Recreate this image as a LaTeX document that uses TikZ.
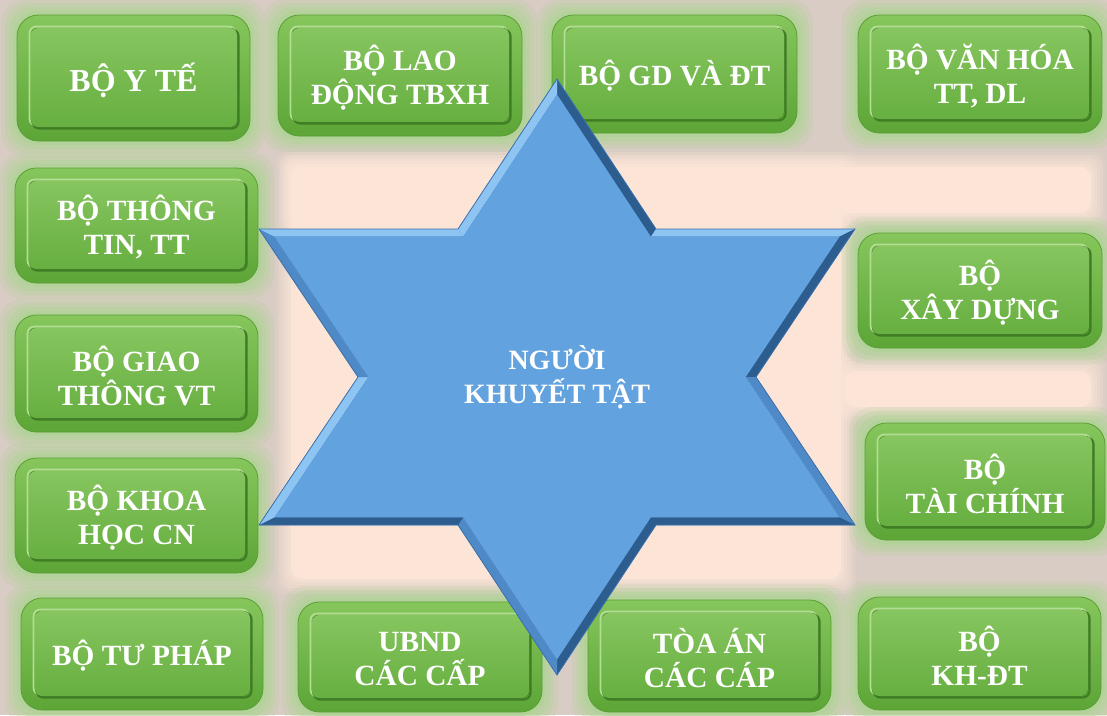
\documentclass[tikz,border=0pt]{standalone}
\usepackage{fontspec}
\setmainfont{Liberation Serif}
\usetikzlibrary{calc}
\definecolor{bggray}{HTML}{D8CCC4}
\definecolor{peach}{HTML}{FCE5D7}
\definecolor{glowgreen}{HTML}{AED493}
\definecolor{outtop}{HTML}{86C65C}
\definecolor{outbot}{HTML}{5CA536}
\definecolor{intop}{HTML}{86C55F}
\definecolor{inbot}{HTML}{67AF40}
\definecolor{edgelight}{HTML}{B2DE94}
\definecolor{edgedark}{HTML}{3F7D24}
\definecolor{outline}{HTML}{5A9E35}
\definecolor{starfill}{HTML}{62A3DF}
\definecolor{bevlight}{HTML}{8DC4F2}
\definecolor{bevmid}{HTML}{4F8AC6}
\definecolor{bevdark}{HTML}{2D5C8E}
\definecolor{staredge}{HTML}{3A72AE}
\tikzset{
  boxtext/.style={text=white, align=center, font=\bfseries\fontsize{22}{25.5}\selectfont},
  bigtext/.style={text=white, align=center, font=\bfseries\fontsize{24}{28}\selectfont},
  startext/.style={text=white, align=center, font=\bfseries\fontsize{21}{25.5}\selectfont},
}
\newcommand{\softpeach}[4]{%
  \foreach \g/\o in {0/0.15,3/0.2,6/0.25,9/0.3,12/0.4,15/1} {%
    \fill[peach,opacity=\o,rounded corners=8pt] ({#1+\g},{#2+\g}) rectangle ({#3-\g},{#4-\g});}}
\newcommand{\gbox}[7][boxtext]{%
  \foreach \g/\o in {16/0.2,12/0.3,8/0.4,4/0.55} {%
    \fill[glowgreen,opacity=\o,rounded corners=18pt] ({#3-\g},{#4-\g}) rectangle ({#5+\g},{#6+\g});}
  \draw[outline, line width=0.6pt, top color=outtop, bottom color=outbot, rounded corners=16pt] (#3,#4) rectangle (#5,#6);
  \draw[edgedark, line width=1.6pt, rounded corners=5pt] ({#3+15.5},{#4+14.5}) rectangle ({#5-11.5},{#6-12.5});
  \draw[edgelight, line width=1.3pt, rounded corners=5pt] ({#3+12.5},{#4+11.5}) rectangle ({#5-14.5},{#6-15.5});
  \fill[top color=intop, bottom color=inbot, rounded corners=5pt] ({#3+14},{#4+13}) rectangle ({#5-13},{#6-14});
  \node[#1] (#2) at ({(#3+#5)/2},{(#4+#6)/2+2}) {#7};
}
\begin{document}
\begin{tikzpicture}[x=0.75pt,y=-0.75pt]
\useasboundingbox (0,0) rectangle (1107,715);
\fill[bggray] (0,0) rectangle (1107,715);
% soft light areas of the background
\softpeach{280}{152}{1106}{228}
\softpeach{276}{152}{856}{594}
\softpeach{830}{356}{1106}{422}

% green boxes
\gbox[bigtext]{yte}{17}{15}{250}{141}{BỘ Y TẾ}
\gbox{laodong}{278}{15}{522}{136}{BỘ LAO\\ĐỘNG TBXH}
\gbox{gddt}{552}{15}{797}{133}{BỘ GD VÀ ĐT}
\gbox{vanhoa}{858}{15}{1102}{133}{BỘ VĂN HÓA\\TT, DL}
\gbox{thongtin}{15}{168}{258}{283}{BỘ THÔNG\\TIN, TT}
\gbox{giaothong}{15}{315}{258}{432}{BỘ GIAO\\THÔNG VT}
\gbox{khoahoc}{15}{458}{258}{573}{BỘ KHOA\\HỌC CN}
\gbox{tuphap}{21}{598}{263}{710}{BỘ TƯ PHÁP}
\gbox{ubnd}{298}{602}{542}{712}{UBND\\CÁC CẤP}
\gbox{toaan}{588}{600}{831}{712}{TÒA ÁN\\CÁC CÁP}
\gbox{khdt}{858}{597}{1101}{710}{BỘ\\KH-ĐT}
\gbox{xaydung}{858}{233}{1102}{348}{BỘ\\XÂY DỰNG}
\gbox{taichinh}{865}{423}{1105}{540}{BỘ\\TÀI CHÍNH}

% star
\coordinate (C) at (557,377);
\coordinate (P0) at (557,79);
\coordinate (I1) at (656,229);
\coordinate (P1) at (855,229);
\coordinate (I2) at (756,377);
\coordinate (P2) at (855,525);
\coordinate (I3) at (656,525);
\coordinate (P3) at (557,675);
\coordinate (I4) at (458,525);
\coordinate (P4) at (259,525);
\coordinate (I5) at (358,377);
\coordinate (P5) at (259,229);
\coordinate (I0) at (458,229);
\foreach \v in {P0,P1,P2,P3,P4,P5,I0,I1,I2,I3,I4,I5} {\coordinate (\v') at ($(C)!0.948!(\v)$);}
\fill[staredge] (P0)--(I1)--(P1)--(I2)--(P2)--(I3)--(P3)--(I4)--(P4)--(I5)--(P5)--(I0)--cycle;
\fill[bevdark]  (P0)--(I1)--(I1')--(P0')--cycle;
\fill[bevlight] (I1)--(P1)--(P1')--(I1')--cycle;
\fill[bevdark]  (P1)--(I2)--(I2')--(P1')--cycle;
\fill[bevmid]   (I2)--(P2)--(P2')--(I2')--cycle;
\fill[bevdark]  (P2)--(I3)--(I3')--(P2')--cycle;
\fill[bevdark]  (I3)--(P3)--(P3')--(I3')--cycle;
\fill[bevmid]   (P3)--(I4)--(I4')--(P3')--cycle;
\fill[bevdark]  (I4)--(P4)--(P4')--(I4')--cycle;
\fill[bevlight] (P4)--(I5)--(I5')--(P4')--cycle;
\fill[bevmid]   (I5)--(P5)--(P5')--(I5')--cycle;
\fill[bevlight] (P5)--(I0)--(I0')--(P5')--cycle;
\fill[bevlight] (I0)--(P0)--(P0')--(I0')--cycle;
\fill[starfill] (P0')--(I1')--(P1')--(I2')--(P2')--(I3')--(P3')--(I4')--(P4')--(I5')--(P5')--(I0')--cycle;
\draw[staredge, line width=0.6pt, line join=miter] (P0)--(I1)--(P1)--(I2)--(P2)--(I3)--(P3)--(I4)--(P4)--(I5)--(P5)--(I0)--cycle;
\node[startext] (nkt) at (557,377) {NGƯỜI\\KHUYẾT TẬT};
\end{tikzpicture}
\end{document}
